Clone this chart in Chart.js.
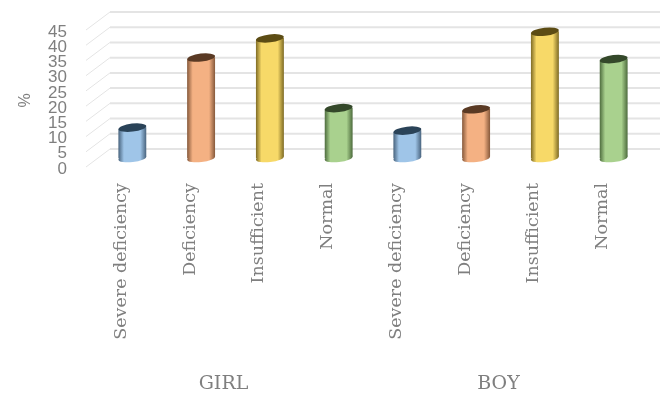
<!DOCTYPE html>
<html>
<head>
<meta charset="utf-8">
<style>
  html, body { margin: 0; padding: 0; background: #fff; }
  canvas { display: block; filter: blur(0.5px); }
</style>
<script src="https://cdn.jsdelivr.net/npm/chart.js@4"></script>
</head>
<body>
<canvas id="chart" width="664" height="393"></canvas>
<script>
const categories = ['Severe deficiency', 'Deficiency', 'Insufficient', 'Normal', 'Severe deficiency', 'Deficiency', 'Insufficient', 'Normal'];
const groups = ['GIRL', 'BOY'];
const values = [10, 33, 39.3, 16.4, 9, 16, 41.5, 32.5];

const bodyColors = ['#9fc5e8', '#f4b183', '#f7d968', '#a9d18e', '#9fc5e8', '#f4b183', '#f7d968', '#a9d18e'];
const edgeColors = ['#47627c', '#85583a', '#7d6a24', '#4c6a3c', '#47627c', '#85583a', '#7d6a24', '#4c6a3c'];
const topColors = ['#2a4358', '#5a3a24', '#5c4c14', '#34482a', '#2a4358', '#5a3a24', '#5c4c14', '#34482a'];

const textColor = '#7f7f7f';
const depth = 12;   // half depth of the fake 3d floor
const tilt = 1.6;   // how much the cylinder ends lean

function barGradient(c, x, w, i) {
  const g = c.createLinearGradient(x - w / 2, 0, x + w / 2, 0);
  g.addColorStop(0, edgeColors[i]);
  g.addColorStop(0.2, bodyColors[i]);
  g.addColorStop(0.78, bodyColors[i]);
  g.addColorStop(1, edgeColors[i]);
  return g;
}

const wallPlugin = {
  id: 'wall',
  beforeDatasetsDraw(chart) {
    const c = chart.ctx, y = chart.scales.y, x = chart.scales.x;
    c.save();
    y.ticks.forEach((t, i) => {
      const py = y.getPixelForTick(i);
      c.strokeStyle = '#e4e4e4';
      c.lineWidth = 2;
      c.beginPath();
      c.moveTo(x.left + depth, py - 20);
      c.lineTo(x.right + depth, py - 20);
      c.stroke();
      c.lineWidth = 1;
      c.beginPath();
      c.moveTo(x.left + depth, py - 20);
      c.lineTo(x.left - depth, py - 2);
      c.stroke();
    });
    c.restore();
  }
};

const cylinderPlugin = {
  id: 'cylinder',
  beforeDatasetDraw(chart, args) {
    const c = chart.ctx;
    c.save();
    c.beginPath();
    chart.getDatasetMeta(args.index).data.forEach(el => {
      const b = el.getProps(['x', 'y', 'base', 'width'], true);
      c.moveTo(b.x - b.width / 2, b.y + tilt);
      c.lineTo(b.x + b.width / 2, b.y - tilt);
      c.lineTo(b.x + b.width / 2, b.base - tilt);
      c.lineTo(b.x - b.width / 2, b.base + tilt);
      c.closePath();
    });
    c.clip();
  },
  afterDatasetDraw(chart, args) {
    const c = chart.ctx;
    c.restore();
    chart.getDatasetMeta(args.index).data.forEach((el, i) => {
      const b = el.getProps(['x', 'y', 'base', 'width'], true);
      const angle = Math.atan2(-2 * tilt, b.width);
      c.fillStyle = barGradient(c, b.x, b.width, i);
      c.beginPath();
      c.ellipse(b.x, b.base, b.width / 2, 4, angle, 0, Math.PI * 2);
      c.fill();
      c.fillStyle = topColors[i];
      c.beginPath();
      c.ellipse(b.x, b.y, b.width / 2, 4, angle, 0, Math.PI * 2);
      c.fill();
    });
  }
};

const groupPlugin = {
  id: 'groupLabels',
  afterDraw(chart) {
    const c = chart.ctx, x = chart.scales.x;
    c.save();
    c.fillStyle = textColor;
    c.font = '19px "DejaVu Serif"';
    c.textAlign = 'center';
    c.textBaseline = 'middle';
    groups.forEach((name, g) => {
      const mid = (x.getPixelForValue(g * 4) + x.getPixelForValue(g * 4 + 3)) / 2;
      c.fillText(name, mid - depth, 384);
    });
    c.restore();
  }
};

new Chart(document.getElementById('chart').getContext('2d'), {
  type: 'bar',
  data: {
    labels: categories,
    datasets: [{
      data: values,
      yAxisID: 'yBars',
      barThickness: 28,
      clip: false,
      backgroundColor: ctx => {
        const chart = ctx.chart;
        if (!chart.chartArea) return bodyColors[ctx.dataIndex];
        return barGradient(chart.ctx, chart.scales.x.getPixelForValue(ctx.dataIndex), 28, ctx.dataIndex);
      }
    }]
  },
  options: {
    responsive: false,
    animation: false,
    layout: { padding: { top: 32, right: 16, left: 0, bottom: 0 } },
    plugins: { legend: { display: false }, tooltip: { enabled: false } },
    scales: {
      x: {
        grid: { display: false, drawTicks: false },
        border: { display: false },
        afterFit: s => { s.height = 224; s.paddingLeft = 0; s.paddingRight = 0; },
        ticks: {
          autoSkip: false,
          minRotation: 90,
          maxRotation: 90,
          padding: 14,
          labelOffset: -11,
          color: textColor,
          font: { family: '"DejaVu Serif"', size: 17.5 }
        }
      },
      y: {
        position: 'left',
        min: 0,
        max: 45,
        grid: { display: false, drawTicks: false },
        border: { display: false },
        afterFit: s => { s.width = 98; s.paddingTop = 0; s.paddingBottom = 0; },
        title: {
          display: true,
          text: '%',
          color: textColor,
          font: { family: '"Liberation Sans"', size: 16 },
          padding: { top: 16, bottom: 0 }
        },
        ticks: {
          stepSize: 5,
          autoSkip: false,
          padding: 31,
          color: textColor,
          font: { family: '"Liberation Sans"', size: 17 }
        }
      },
      // same height as y, shifted so the bars stand half way into the floor
      yBars: { display: false, min: -3.6, max: 41.4 }
    }
  },
  plugins: [wallPlugin, cylinderPlugin, groupPlugin]
});
</script>
</body>
</html>
